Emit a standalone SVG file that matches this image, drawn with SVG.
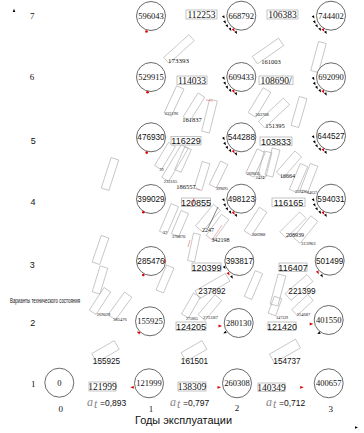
<svg xmlns="http://www.w3.org/2000/svg" xmlns:xlink="http://www.w3.org/1999/xlink" width="364" height="433" viewBox="0 0 364 433">
<style>
.nd{fill:#fff;stroke:#444;stroke-width:0.8}
.ts{font-family:"Liberation Serif",serif;font-size:8.5px;fill:#111;text-anchor:middle}
.tn{font-family:"Liberation Sans",sans-serif;font-size:8.2px;fill:#111;text-anchor:middle}
.bx{fill:#fff;stroke:#aaa;stroke-width:0.7}
.bs{font-family:"Liberation Serif",serif;font-size:9.5px;fill:#111;text-anchor:middle}
.bn{font-family:"Liberation Sans",sans-serif;font-size:9px;fill:#111;text-anchor:middle}
.cb{fill:none;stroke:#999;stroke-width:0.5}
.sl{font-family:"Liberation Serif",serif;fill:#111;text-anchor:middle}
.ax{font-family:"Liberation Serif",serif;font-size:9px;fill:#111;text-anchor:middle}
.axs{font-family:"Liberation Sans",sans-serif;font-size:9px;fill:#111;text-anchor:middle}
.al{font-family:"Liberation Serif",serif;font-style:italic;font-size:12px;fill:#888}
.av{font-family:"Liberation Sans",sans-serif;font-size:8.5px;fill:#111}
.red{fill:#d00}
</style>
<defs>
<path id="t" d="M-1.6,-1.3 L1.6,0 L-1.6,1.3Z" fill="#000"/>
<path id="tr" d="M-1.8,-1.4 L1.8,0 L-1.8,1.4Z" fill="#d00"/>
<g id="mk">
<use xlink:href="#t" transform="translate(-17.4,1.5) rotate(60)"/>
<use xlink:href="#t" transform="translate(-16.2,6.6) rotate(60)"/>
<use xlink:href="#t" transform="translate(-14,10.5) rotate(60)"/>
<use xlink:href="#t" transform="translate(-10.8,13.8) rotate(60)"/>
<use xlink:href="#tr" transform="translate(-7.5,14.6) rotate(60)"/>
<use xlink:href="#t" transform="translate(-5,17) rotate(60)"/>
</g>
</defs>
<rect width="364" height="433" fill="#fff"/>

<g id="connectors">
<rect class="cb" x="-17" y="-4" width="34" height="8" transform="translate(179,49) rotate(-42)"/>
<rect class="cb" x="-16" y="-4.5" width="32" height="9" transform="translate(268,51) rotate(-35)"/>
<rect class="cb" x="-15" y="-4" width="30" height="8" transform="translate(318.5,57) rotate(-75)"/>
<rect class="cb" x="-15" y="-4" width="30" height="8" transform="translate(174,101) rotate(-65)"/>
<rect class="cb" x="-14" y="-4" width="28" height="8" transform="translate(194,107) rotate(-58)"/>
<rect class="cb" x="-16.5" y="-4" width="33" height="8" transform="translate(209.5,116) rotate(-76)"/>
<rect class="cb" x="-14.5" y="-4.5" width="29" height="9" transform="translate(259.5,102.5) rotate(-59)"/>
<rect class="cb" x="-17" y="-4.5" width="34" height="9" transform="translate(274,113) rotate(-43)"/>
<rect class="cb" x="-15" y="-4" width="30" height="8" transform="translate(299,112) rotate(-74)"/>
<rect class="cb" x="-16" y="-4" width="32" height="8" transform="translate(110,174) rotate(-72)"/>
<rect class="cb" x="-13.5" y="-4" width="27" height="8" transform="translate(165,156) rotate(-59)"/>
<rect class="cb" x="-19" y="-4" width="38" height="8" transform="translate(175,163) rotate(-59)"/>
<rect class="cb" x="-12.5" y="-3.5" width="25" height="7" transform="translate(183,159.5) rotate(-66)"/>
<rect class="cb" x="-14" y="-4" width="28" height="8" transform="translate(202,176) rotate(-73)"/>
<rect class="cb" x="-13" y="-4" width="26" height="8" transform="translate(218.5,174.5) rotate(-64)"/>
<rect class="cb" x="-13.5" y="-4.5" width="27" height="9" transform="translate(255.5,163) rotate(-65)"/>
<rect class="cb" x="-12.5" y="-4" width="25" height="8" transform="translate(265,164) rotate(-76)"/>
<rect class="cb" x="-14" y="-4" width="28" height="8" transform="translate(272.5,162.5) rotate(-75)"/>
<rect class="cb" x="-14" y="-4.5" width="28" height="9" transform="translate(289,164.5) rotate(-49)"/>
<rect class="cb" x="-14" y="-4" width="28" height="8" transform="translate(298.5,178) rotate(-67)"/>
<rect class="cb" x="-14" y="-4" width="28" height="8" transform="translate(309,178) rotate(-69)"/>
<rect class="cb" x="-15" y="-4" width="30" height="8" transform="translate(169,219) rotate(-67)"/>
<rect class="cb" x="-12.5" y="-4" width="25" height="8" transform="translate(180,223.5) rotate(-67)"/>
<rect class="cb" x="-14" y="-4" width="28" height="8" transform="translate(100.5,250) rotate(-71)"/>
<rect class="cb" x="-14" y="-3.5" width="28" height="7" transform="translate(194,247.5) rotate(-78)"/>
<rect class="cb" x="-14" y="-4.5" width="28" height="9" transform="translate(208,218) rotate(-50)"/>
<rect class="cb" x="-13" y="-4.5" width="26" height="9" transform="translate(217.5,227.5) rotate(-54)"/>
<rect class="cb" x="-14" y="-4.5" width="28" height="9" transform="translate(255.5,221.5) rotate(-57)"/>
<rect class="cb" x="-14" y="-4.5" width="28" height="9" transform="translate(293,225) rotate(-45)"/>
<rect class="cb" x="-14" y="-4.5" width="28" height="9" transform="translate(305.5,229.5) rotate(-51)"/>
<rect class="cb" x="-13.5" y="-4" width="27" height="8" transform="translate(100,280) rotate(-73)"/>
<rect class="cb" x="-13.5" y="-4" width="27" height="8" transform="translate(100,301) rotate(-57)"/>
<rect class="cb" x="-14" y="-4.5" width="28" height="9" transform="translate(120,306) rotate(-54)"/>
<rect class="cb" x="-13.5" y="-4" width="27" height="8" transform="translate(165,279) rotate(-67)"/>
<rect class="cb" x="-17.5" y="-4.5" width="35" height="9" transform="translate(212.5,286) rotate(-30)"/>
<rect class="cb" x="-14" y="-4" width="28" height="8" transform="translate(253.5,285) rotate(-67)"/>
<rect class="cb" x="-15.5" y="-4" width="31" height="8" transform="translate(278,290) rotate(-75)"/>
<rect class="cb" x="-14.5" y="-4.5" width="29" height="9" transform="translate(299,287.5) rotate(-41)"/>
<rect class="cb" x="-12" y="-4" width="24" height="8" transform="translate(191,305.5) rotate(-60)"/>
<rect class="cb" x="-13" y="-4.5" width="26" height="9" transform="translate(210,307.5) rotate(-50)"/>
<rect class="cb" x="-9" y="-4" width="18" height="8" transform="translate(275,306) rotate(-70)"/>
<rect class="cb" x="-11" y="-4" width="22" height="8" transform="translate(302.5,305) rotate(-43)"/>
<rect class="cb" x="-13" y="-5" width="26" height="10" transform="translate(105.5,351.5) rotate(-30)"/>
<rect class="cb" x="-12" y="-5" width="24" height="10" transform="translate(194,351) rotate(-30)"/>
<rect class="cb" x="-15" y="-5" width="30" height="10" transform="translate(285,351) rotate(-30)"/>
<line x1="218" y1="207" x2="208" y2="228" stroke="#333" stroke-width="0.6"/>
<line x1="206" y1="100" x2="213" y2="101" stroke="#d44" stroke-width="0.5"/>
<line x1="196" y1="188" x2="200" y2="190" stroke="#d44" stroke-width="0.5"/>
<line x1="188" y1="247" x2="190" y2="240" stroke="#d44" stroke-width="0.5"/>
<line x1="212" y1="240" x2="222" y2="225" stroke="#d44" stroke-width="0.4"/>
</g>

<g id="labels-small">
<text class="sl" x="178.5" y="63" font-size="7">173393</text>
<text class="sl" x="271" y="63.5" font-size="6.5">161003</text>
<text class="sl" x="171.5" y="115" font-size="4.5">233196</text>
<text class="sl" x="192" y="121.5" font-size="6.5">161837</text>
<text class="sl" x="262" y="116" font-size="4.5">203708</text>
<text class="sl" x="275" y="128" font-size="6.5">151395</text>
<text class="sl" x="161.5" y="170.5" font-size="4">29</text>
<text class="sl" x="170.5" y="182.5" font-size="4.5">233165</text>
<text class="sl" x="186" y="188.5" font-size="6.5">186557</text>
<text class="sl" x="253.5" y="175" font-size="4.5">269035</text>
<text class="sl" x="260" y="179" font-size="4.5">2424</text>
<text class="sl" x="287.5" y="178" font-size="6">16664</text>
<text class="sl" x="301" y="192.5" font-size="4">239436</text>
<text class="sl" x="312" y="194" font-size="4">84637</text>
<text class="sl" x="222" y="190" font-size="4">399095</text>
<text class="sl" x="165" y="233.5" font-size="4.5">37</text>
<text class="sl" x="178.5" y="238" font-size="4.5">370870</text>
<text class="sl" x="208" y="231.5" font-size="6">2247</text>
<text class="sl" x="220.5" y="242" font-size="6">342198</text>
<text class="sl" x="258.5" y="235.5" font-size="4.5">306988</text>
<text class="sl" x="295" y="237" font-size="6">208939</text>
<text class="sl" x="308.5" y="244.5" font-size="5">313961</text>
<text class="tn" x="212" y="293.5" font-size="8">237892</text>
<text class="tn" x="302" y="293.5" font-size="8">221399</text>
<text class="sl" x="103.5" y="315.5" font-size="4.5">269029</text>
<text class="sl" x="120" y="320.5" font-size="4.5">285476</text>
<text class="sl" x="192" y="319.5" font-size="4">275865</text>
<text class="sl" x="210.5" y="318.8" font-size="5">275187</text>
<text class="sl" x="282" y="318.5" font-size="4">347339</text>
<text class="sl" x="303.5" y="315.5" font-size="4.5">254687</text>
<text class="tn" x="106.5" y="363.5" font-size="7.5">155925</text>
<text class="tn" x="194.5" y="363.5" font-size="7.5">161501</text>
<text class="tn" x="287" y="363.5" font-size="7.5">154737</text>
</g>

<g id="boxes">
<rect class="bx" x="186" y="10" width="31" height="9"/><text class="bs" x="201.5" y="18">112253</text>
<rect class="bx" x="267" y="10" width="31" height="9"/><text class="bs" x="282.5" y="18">106383</text>
<rect class="bx" x="177" y="76" width="30" height="8.5"/><text class="bs" x="192" y="83.5">114033</text>
<rect class="bx" x="259" y="76" width="34" height="8.5"/><text class="bs" x="276" y="83.5">108690/</text>
<rect class="bx" x="171" y="136.5" width="30" height="8.5"/><text class="bn" x="186" y="144">116229</text>
<rect class="bx" x="260" y="137" width="32" height="8.5"/><text class="bn" x="276" y="144.5">103833</text>
<rect class="bx" x="181.5" y="198" width="29" height="8.5"/><text class="bn" x="196" y="205.5">120855</text>
<line x1="194" y1="198.5" x2="192" y2="206.5" stroke="#d00" stroke-width="0.7"/>
<rect class="bx" x="272" y="198" width="33" height="8.5"/><text class="bn" x="288.5" y="205.5">116165</text>
<rect class="bx" x="192" y="263" width="29" height="8.5"/><text class="bn" x="206.5" y="270.5">120399</text>
<rect class="bx" x="279" y="263" width="28" height="8.5"/><text class="bn" x="293" y="270.5">116407</text>
<rect class="bx" x="176" y="322" width="30" height="8.5"/><text class="bn" x="191" y="329.5">124205</text>
<rect class="bx" x="268" y="322" width="28" height="8.5"/><text class="bn" x="282" y="329.5">121420</text>
<rect class="bx" x="89" y="382" width="27" height="9"/><text class="bs" x="102.5" y="390">121999</text>
<rect class="bx" x="178" y="382" width="28" height="9"/><text class="bs" x="192" y="390">138309</text>
<rect class="bx" x="258" y="383" width="27" height="8.5"/><text class="bs" x="271.5" y="390.5">140349</text>
</g>

<g id="n0"><circle class="nd" cx="59.3" cy="382.7" r="14.5"/><text class="ts" x="59.3" y="385.7">0</text></g>

<g id="n596043"><circle class="nd" cx="151" cy="16" r="14.5"/><text class="ts" x="151" y="19">596043</text><circle class="red" cx="146.5" cy="31.5" r="1.3"/></g>
<g id="n529915"><circle class="nd" cx="151" cy="77" r="14.5"/><text class="ts" x="151" y="80">529915</text><circle class="red" cx="147.5" cy="92.3" r="1.3"/></g>
<g id="n476930"><circle class="nd" cx="151" cy="137.3" r="14.5"/><text class="tn" x="151" y="140.3">476930</text><circle class="red" cx="146.7" cy="152.6" r="1.3"/></g>
<g id="n399029"><circle class="nd" cx="151" cy="199" r="14.5"/><text class="tn" x="151" y="202">399029</text><circle class="red" cx="143.3" cy="212.3" r="1.3"/></g>
<g id="n285476"><circle class="nd" cx="151" cy="261" r="14.5"/><text class="tn" x="151" y="264">285476</text><circle class="red" cx="143.3" cy="275" r="1.3"/><line x1="164.5" y1="259" x2="164.5" y2="263" stroke="#d00" stroke-width="0.8"/></g>
<g id="n155925"><circle class="nd" cx="150" cy="321.3" r="14.5"/><text class="ts" x="150" y="324.3">155925</text><use xlink:href="#tr" transform="translate(138.3,332.3) rotate(-150)"/></g>
<g id="n121999"><circle class="nd" cx="149" cy="383.3" r="14.5"/><text class="ts" x="149" y="386.3">121999</text><use xlink:href="#tr" transform="translate(132,387.3) rotate(180)"/></g>

<g id="n668792"><circle class="nd" cx="241.3" cy="15.7" r="14.5"/><text class="ts" x="241.3" y="18.7">668792</text><use xlink:href="#mk" x="241.3" y="15.7"/></g>
<g id="n609433"><circle class="nd" cx="241.3" cy="77" r="14.5"/><text class="ts" x="241.3" y="80">609433</text><use xlink:href="#mk" x="241.3" y="77"/></g>
<g id="n544288"><circle class="nd" cx="241.3" cy="137.3" r="14.5"/><text class="tn" x="241.3" y="140.3">544288</text><use xlink:href="#mk" x="241.3" y="137.3"/></g>
<g id="n498123"><circle class="nd" cx="241.3" cy="198.7" r="14.5"/><text class="tn" x="241.3" y="201.7">498123</text><use xlink:href="#mk" x="241.3" y="198.7"/></g>
<g id="n393817"><circle class="nd" cx="239.3" cy="261" r="14.5"/><text class="tn" x="239.3" y="264">393817</text><use xlink:href="#t" transform="translate(224.7,267.7) rotate(60)"/><use xlink:href="#tr" transform="translate(228.7,274) rotate(60)"/><use xlink:href="#t" transform="translate(232,277.3) rotate(60)"/></g>
<g id="n280130"><circle class="nd" cx="238.7" cy="323" r="14.5"/><text class="ts" x="238.7" y="326">280130</text><use xlink:href="#tr" transform="translate(220.3,326) rotate(0)"/><use xlink:href="#t" transform="translate(224.7,332.7) rotate(150)"/></g>
<g id="n260308"><circle class="nd" cx="237" cy="383.3" r="14.5"/><text class="ts" x="237" y="386.3">260308</text><use xlink:href="#tr" transform="translate(219.3,387.3) rotate(0)"/></g>

<g id="n744402"><circle class="nd" cx="331" cy="15.7" r="14.5"/><text class="ts" x="331" y="18.7">744402</text><use xlink:href="#mk" x="331" y="15.7"/></g>
<g id="n692090"><circle class="nd" cx="331" cy="77.3" r="14.5"/><text class="ts" x="331" y="80.3">692090</text><use xlink:href="#mk" x="331" y="77.3"/></g>
<g id="n644527"><circle class="nd" cx="331" cy="135.7" r="14.5"/><text class="tn" x="331" y="138.7">644527</text><use xlink:href="#mk" x="331" y="135.7"/></g>
<g id="n594031"><circle class="nd" cx="331" cy="198.7" r="14.5"/><text class="tn" x="331" y="201.7">594031</text><use xlink:href="#mk" x="331" y="198.7"/></g>
<g id="n501499"><circle class="nd" cx="329.7" cy="260.7" r="14.5"/><text class="tn" x="329.7" y="263.7">501499</text><use xlink:href="#tr" transform="translate(318,272.7) rotate(60)"/><use xlink:href="#t" transform="translate(322,276) rotate(60)"/></g>
<g id="n401550"><circle class="nd" cx="328.7" cy="320" r="14.5"/><text class="ts" x="328.7" y="323">401550</text><use xlink:href="#tr" transform="translate(311.5,324) rotate(0)"/><use xlink:href="#t" transform="translate(318.7,333.3) rotate(150)"/></g>
<g id="n400657"><circle class="nd" cx="328.7" cy="383.3" r="14.5"/><text class="ts" x="328.7" y="386.3">400657</text><use xlink:href="#tr" transform="translate(302,387.3) rotate(0)"/></g>

<g id="axes">
<path d="M14,8.8 L15.3,12 L12.7,12Z" fill="#000"/>
<path d="M358,427.5 L355,426.2 L355,428.8Z" fill="#000"/>
<text class="ax" x="32.3" y="19">7</text>
<text class="ax" x="32" y="80">6</text>
<text class="axs" x="33.3" y="144">5</text>
<text class="axs" x="33" y="205">4</text>
<text class="axs" x="32.3" y="268">3</text>
<text class="axs" x="32.7" y="326">2</text>
<text class="ax" x="33.3" y="387">1</text>
<text class="ax" x="60.7" y="411.5" font-size="8.5">0</text>
<text class="ax" x="151" y="411.5" font-size="8.5">1</text>
<text class="ax" x="237" y="411" font-size="8.5">2</text>
<text class="ax" x="330.7" y="411.5" font-size="8.5">3</text>
<text x="10" y="302.5" font-family="Liberation Sans, sans-serif" font-size="7" fill="#111" textLength="70" lengthAdjust="spacingAndGlyphs">Варианты технического состояния</text>
<text x="135" y="423.5" font-family="Liberation Sans, sans-serif" font-size="11.5" fill="#111" textLength="97" lengthAdjust="spacingAndGlyphs">Годы эксплуатации</text>
<text class="al" x="87" y="406">a</text><text class="al" x="94" y="408" font-size="6">t</text><text class="av" x="100" y="406">=0,893</text>
<text class="al" x="170" y="406">a</text><text class="al" x="177" y="408" font-size="6">t</text><text class="av" x="183" y="406">=0,797</text>
<text class="al" x="266" y="406">a</text><text class="al" x="273" y="408" font-size="6">t</text><text class="av" x="279" y="406">=0,712</text>
</g>
</svg>
